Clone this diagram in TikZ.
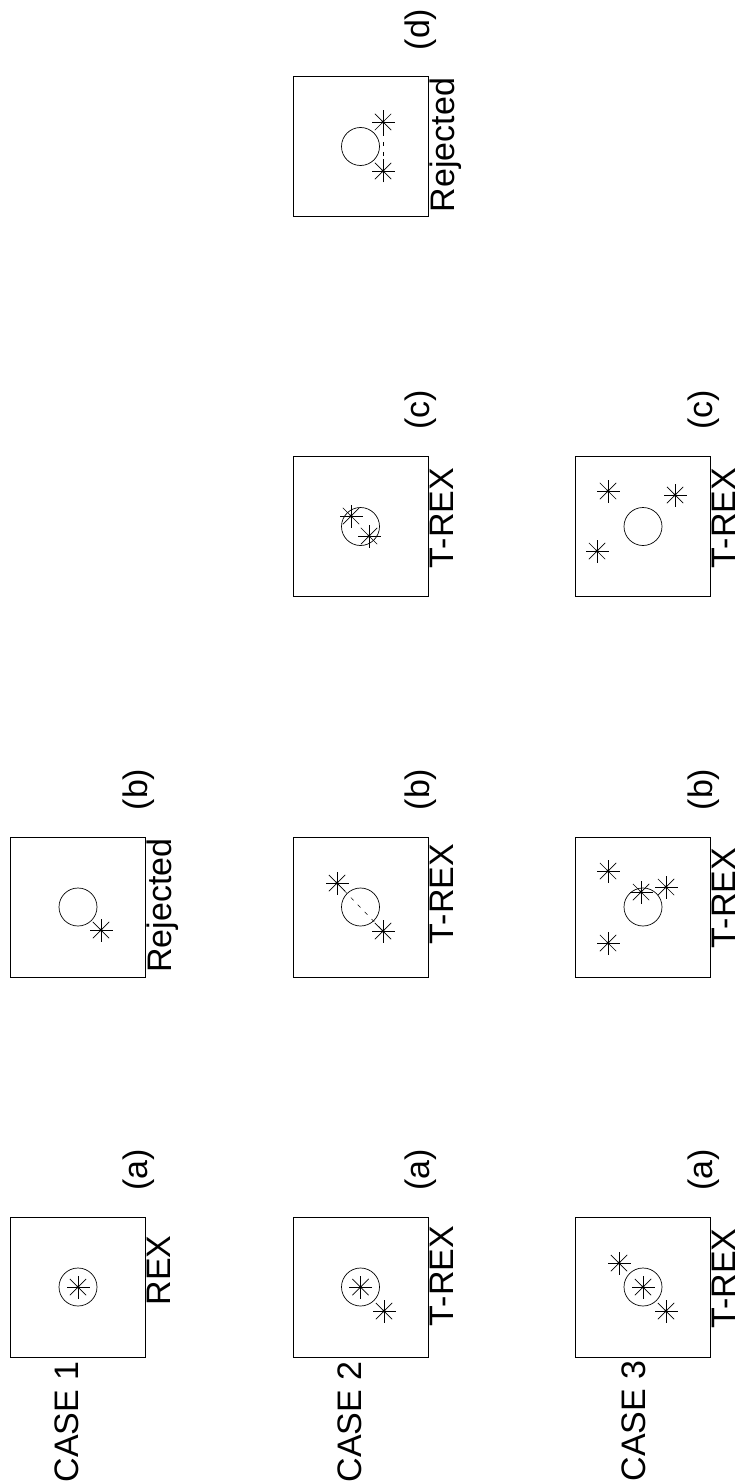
\documentclass[tikz,border=0pt]{standalone}
\usepackage{fontspec}
\setmainfont{Liberation Sans}
\begin{document}
\begin{tikzpicture}[x=1pt,y=-1pt,
  panel/.style={draw, line width=0.9pt, minimum width=135pt, minimum height=140pt, inner sep=0pt},
  ring/.style={draw, circle, line width=0.7pt, minimum size=38pt, inner sep=0pt},
  txt/.style={rotate=90, inner sep=0pt, font=\fontsize{34}{40}\selectfont},
  side/.style={txt, anchor=north},
  link/.style={dashed, line width=0.5pt, dash pattern=on 4pt off 6pt},
  asterisk/.pic={
    \foreach \a in {0,45,90,135} \draw[line width=0.7pt] (\a:11.5) -- (\a+180:11.5);
    \fill (0,0) circle (1.6);
  }]
\useasboundingbox (0,0) rectangle (739,1482);

% ---------- CASE 1 ----------
\node[panel] (p1a) at (78,1287) {};
\node[ring] (r1a) at (p1a.center) {};
\coordinate (s1a) at (p1a.center);
\pic at (s1a) {asterisk};
\node[side] (l1a) at (147,1270.5) {REX};
\node[txt] (t1a) at (138.5,1170) {(a)};
\node[txt] (c1) at (66.5,1422) {CASE 1};

\node[panel] (p1b) at (78,907) {};
\node[ring] (r1b) at (p1b.center) {};
\coordinate (s1b) at (101,930);
\pic at (s1b) {asterisk};
\node[side] (l1b) at (147,905.5) {Rejected};
\node[txt] (t1b) at (138.5,789.5) {(b)};

% ---------- CASE 2 ----------
\node[panel] (p2a) at (360.5,1287) {};
\node[ring] (r2a) at (p2a.center) {};
\coordinate (s2a1) at (p2a.center);
\coordinate (s2a2) at (384,1311);
\pic at (s2a1) {asterisk};
\pic at (s2a2) {asterisk};
\node[side] (l2a) at (429.5,1276) {T-REX};
\node[txt] (t2a) at (421,1170) {(a)};
\node[txt] (c2) at (350,1422) {CASE 2};

\node[panel] (p2b) at (360.5,907) {};
\node[ring] (r2b) at (p2b.center) {};
\coordinate (s2b1) at (337,883);
\coordinate (s2b2) at (383,931);
\draw[link] (s2b1) -- (s2b2);
\pic at (s2b1) {asterisk};
\pic at (s2b2) {asterisk};
\node[side] (l2b) at (429.5,894) {T-REX};
\node[txt] (t2b) at (421,789.5) {(b)};

\node[panel] (p2c) at (360.5,526.5) {};
\node[ring] (r2c) at (p2c.center) {};
\coordinate (s2c1) at (351,516);
\coordinate (s2c2) at (369,536);
\pic at (s2c1) {asterisk};
\pic at (s2c2) {asterisk};
\node[side] (l2c) at (429.5,518) {T-REX};
\node[txt] (t2c) at (421,410) {(c)};

\node[panel] (p2d) at (360.5,146.5) {};
\node[ring] (r2d) at (p2d.center) {};
\coordinate (s2d1) at (383,122);
\coordinate (s2d2) at (383,171);
\draw[link] (s2d1) -- (s2d2);
\pic at (s2d1) {asterisk};
\pic at (s2d2) {asterisk};
\node[side] (l2d) at (429.5,145) {Rejected};
\node[txt] (t2d) at (421,29.5) {(d)};

% ---------- CASE 3 ----------
\node[panel] (p3a) at (643,1287) {};
\node[ring] (r3a) at (p3a.center) {};
\coordinate (s3a1) at (p3a.center);
\coordinate (s3a2) at (619,1263);
\coordinate (s3a3) at (666,1311);
\pic at (s3a1) {asterisk};
\pic at (s3a2) {asterisk};
\pic at (s3a3) {asterisk};
\node[side] (l3a) at (712,1278.5) {T-REX};
\node[txt] (t3a) at (704,1170) {(a)};
\node[txt] (c3) at (633.5,1421) {CASE 3};

\node[panel] (p3b) at (643,907) {};
\node[ring] (r3b) at (p3b.center) {};
\coordinate (s3b1) at (608,871);
\coordinate (s3b2) at (608,943);
\coordinate (s3b3) at (641,892);
\coordinate (s3b4) at (666,887);
\pic at (s3b1) {asterisk};
\pic at (s3b2) {asterisk};
\pic at (s3b3) {asterisk};
\pic at (s3b4) {asterisk};
\node[side] (l3b) at (712,898) {T-REX};
\node[txt] (t3b) at (704,789.5) {(b)};

\node[panel] (p3c) at (643,526.5) {};
\node[ring] (r3c) at (p3c.center) {};
\coordinate (s3c1) at (608,491);
\coordinate (s3c2) at (675,495);
\coordinate (s3c3) at (597,551);
\pic at (s3c1) {asterisk};
\pic at (s3c2) {asterisk};
\pic at (s3c3) {asterisk};
\node[side] (l3c) at (712,518) {T-REX};
\node[txt] (t3c) at (704,410) {(c)};
\end{tikzpicture}
\end{document}
